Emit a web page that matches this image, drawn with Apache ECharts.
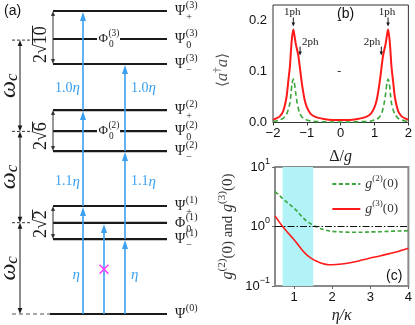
<!DOCTYPE html>
<html>
<head>
<meta charset="utf-8">
<script src="https://cdn.jsdelivr.net/npm/echarts@6/dist/echarts.min.js"></script>
<style>
  html, body { margin: 0; padding: 0; background: #fff; }
  #chart { width: 415px; height: 325px; }
</style>
</head>
<body>
<div id="chart"></div>
<script>
// ---- panel (b): photon number vs detuning
const deltaB = [-2, -1.9, -1.8, -1.7, -1.6, -1.55, -1.5, -1.47, -1.44, -1.4, -1.37, -1.33, -1.29, -1.25, -1.21, -1.17, -1.12, -1.06, -1, -0.9, -0.75, -0.5, -0.25, 0,
  0.25, 0.5, 0.75, 0.9, 1, 1.06, 1.12, 1.17, 1.21, 1.25, 1.29, 1.33, 1.37, 1.4, 1.44, 1.47, 1.5, 1.55, 1.6, 1.7, 1.8, 1.9, 2];
const nRed = [0.005, 0.008, 0.012, 0.022, 0.05, 0.08, 0.11, 0.14, 0.165, 0.182, 0.172, 0.155, 0.143, 0.13, 0.11, 0.088, 0.065, 0.043, 0.03, 0.018, 0.011, 0.007, 0.005, 0.005,
  0.005, 0.007, 0.011, 0.018, 0.03, 0.043, 0.065, 0.088, 0.11, 0.13, 0.143, 0.155, 0.172, 0.182, 0.165, 0.14, 0.11, 0.08, 0.05, 0.022, 0.012, 0.008, 0.005];
const nGreen = [0.002, 0.003, 0.005, 0.008, 0.016, 0.025, 0.038, 0.055, 0.075, 0.085, 0.078, 0.058, 0.04, 0.027, 0.018, 0.013, 0.009, 0.006, 0.005, 0.003, 0.002, 0.0015, 0.001, 0.001,
  0.001, 0.0015, 0.002, 0.003, 0.005, 0.006, 0.009, 0.013, 0.018, 0.027, 0.04, 0.058, 0.078, 0.085, 0.075, 0.055, 0.038, 0.025, 0.016, 0.008, 0.005, 0.003, 0.002];
const nTicks = [0, 0.1, 0.2];
const annotText = ['1ph', '2ph', '2ph', '1ph'];
const annotDelta = [-1.4, -1.2, 1.2, 1.4];
const annotTip = [0.188, 0.131, 0.131, 0.188];

// ---- panel (c): correlation functions vs pump
const etaC = [0.5, 0.6, 0.7, 0.8, 0.9, 1.0, 1.1, 1.2, 1.3, 1.4, 1.5, 1.6, 1.7, 1.8, 1.9, 2.0, 2.25, 2.5, 2.75, 3.0, 3.25, 3.5, 3.75, 4.0];
const g2 = [3.87, 3.4, 2.95, 2.6, 2.3, 2.04, 1.75, 1.48, 1.28, 1.15, 1.05, 0.98, 0.92, 0.88, 0.85, 0.83, 0.81, 0.8, 0.8, 0.81, 0.815, 0.83, 0.84, 0.85];
const g3 = [1.51, 1.22, 1.0, 0.84, 0.71, 0.6, 0.5, 0.41, 0.35, 0.31, 0.28, 0.26, 0.243, 0.233, 0.228, 0.227, 0.234, 0.249, 0.27, 0.295, 0.32, 0.35, 0.385, 0.43];
const etaTicks = [1, 2, 3, 4];
const bandEta = [0.7, 1.5];
const unity = 1;

// ---- panel (a): level scheme (energies in units of omega_c, schematic)
const levelSym = ['Ψ', 'Ψ', 'Φ', 'Ψ', 'Ψ', 'Ψ', 'Ψ', 'Ψ', 'Ψ', 'Ψ'];
const levelSub = ['', '−', '0', '+', '−', '0', '+', '−', '0', '+'];
const levelSup = ['(0)', '(1)', '(1)', '(1)', '(2)', '(2)', '(2)', '(3)', '(3)', '(3)'];
const levelEnergy = [0, 0.821, 0.997, 1.183, 1.785, 2.004, 2.234, 2.738, 3.012, 3.319];
const midLabelSup = { 5: '(2)', 8: '(3)' };          // Φ0 labels drawn on the line
const manifoldCenter = [0, 1, 2, 3];
const splitLow = [1, 4, 7], splitHigh = [3, 6, 9];
const splitRadicand = ['2', '6', '10'];
const pumpFrom = [0, 3, 6, 0, 1, 4, 0];
const pumpTo = [3, 6, 9, 1, 4, 7, 2];
const pumpColumn = [0, 0, 0, 2, 2, 2, 1];
const pumpStepLabel = [['', 'η'], ['1.1', 'η'], ['1.0', 'η']];
const pumpLabelE = [0.43, 1.45, 2.475];
const blockedE = 0.49;

const SERIF = '"Liberation Serif","DejaVu Serif",serif';
const SANS = '"Liberation Sans",Arial,sans-serif';
const INK = '#1a1a1a';
const BLUE = '#3ba0f0';
const colX = [83, 104, 125];

const ctx = document.createElement('canvas').getContext('2d');
function textW(s, size, italic, family) {
  ctx.font = (italic ? 'italic ' : '') + size + 'px ' + (family || SERIF);
  return ctx.measureText(s).width;
}
function txt(x, y, s, size, o) {
  o = o || {};
  return {
    type: 'text', x: x, y: y, rotation: o.rot || 0, silent: true,
    style: {
      text: s, fill: o.color || INK, fontSize: size, fontFamily: o.family || SERIF,
      fontStyle: o.italic ? 'italic' : 'normal',
      align: o.align || 'left', verticalAlign: o.va || 'middle', rich: o.rich
    }
  };
}
function seg(x1, y1, x2, y2, color, lw, dash) {
  return { type: 'line', silent: true, shape: { x1, y1, x2, y2 }, style: { stroke: color, lineWidth: lw, lineDash: dash || null } };
}
function head(x, y, dir, color, len, hw) {
  return { type: 'polygon', silent: true, shape: { points: [[x, y], [x - hw, y - dir * len], [x + hw, y - dir * len]] }, style: { fill: color } };
}
// vertical arrow, tip at yTip
function vArrow(x, yTail, yTip, color, lw, len, hw, both) {
  const dir = yTip > yTail ? 1 : -1;
  const out = [seg(x, both ? yTail + dir * len * 0.7 : yTail, x, yTip - dir * len * 0.7, color, lw), head(x, yTip, dir, color, len, hw)];
  if (both) out.push(head(x, yTail, -dir, color, len, hw));
  return out;
}
function stacked(x, y, sym, sup, sub, size) {
  const w = textW(sym, size);
  const out = [txt(x, y, sym, size)];
  if (sup) out.push(txt(x + w + 0.5, y - size * 0.42, sup, size * 0.72));
  if (sub) out.push(txt(x + w + 1, y + size * 0.42, sub, size * 0.72));
  return out;
}

const chart = echarts.init(document.getElementById('chart'));

const tickLabel = { fontFamily: SANS, fontSize: 13, color: '#111' };
const supRich = (size, color) => ({
  i: { fontFamily: SERIF, fontSize: size, fontStyle: 'italic', color, fill: color, lineHeight: size + 6 },
  n: { fontFamily: SERIF, fontSize: size - 1, color, fill: color, lineHeight: size + 6 },
  s: { fontFamily: SERIF, fontSize: Math.round(size * 0.66), color, fill: color, verticalAlign: 'top', lineHeight: Math.round(size * 0.66) }
});

const option = {
  animation: false,
  grid: [
    { left: 273, top: 5, width: 137, height: 117.5, show: true, borderColor: '#333', borderWidth: 1 },
    { left: 275, top: 167, width: 135, height: 122.5, show: true, borderColor: '#8a8a8a', borderWidth: 2 },
    { left: 0, top: 3.58, width: 205, height: 319.55 }
  ],
  xAxis: [
    {
      gridIndex: 0, type: 'value', min: -2, max: 2, interval: 1,
      axisLine: { show: false }, splitLine: { show: false },
      axisTick: { length: 3, lineStyle: { color: '#333' } },
      axisLabel: Object.assign({ margin: 4, formatter: v => (v < 0 ? '−' + (-v) : '' + v) }, tickLabel),
      name: '{n|Δ/}{i|g}', nameLocation: 'middle', nameGap: 26,
      nameTextStyle: { rich: { n: { fontFamily: SERIF, fontSize: 16, color: '#222' }, i: { fontFamily: SERIF, fontSize: 16, fontStyle: 'italic', color: '#222' } } }
    },
    {
      gridIndex: 1, type: 'value', min: 0.5, max: 4,
      axisLine: { show: false }, splitLine: { show: false },
      axisTick: { length: 3, customValues: etaTicks, lineStyle: { color: '#666' } },
      axisLabel: Object.assign({ margin: 5, customValues: etaTicks }, tickLabel),
      name: 'η/κ', nameLocation: 'middle', nameGap: 22,
      nameTextStyle: { fontFamily: SERIF, fontSize: 16, fontStyle: 'italic', color: '#222' }
    },
    { gridIndex: 2, type: 'value', min: 0, max: 205, show: false }
  ],
  yAxis: [
    {
      gridIndex: 0, type: 'value', min: 0, max: 0.23,
      axisLine: { show: false }, splitLine: { show: false },
      axisTick: { length: 3, customValues: nTicks, lineStyle: { color: '#333' } },
      axisLabel: Object.assign({ margin: 6, customValues: nTicks, formatter: v => v.toFixed(1) }, tickLabel)
    },
    {
      gridIndex: 1, type: 'log', logBase: 10, min: 0.1, max: 10,
      axisLine: { show: false }, splitLine: { show: false }, minorTick: { show: false },
      axisTick: { length: 3, lineStyle: { color: '#666' } },
      axisLabel: {
        margin: 5,
        formatter: v => { const e = Math.round(Math.log10(v)); return '{b|10}{s|' + (e < 0 ? '−' + (-e) : e) + '}'; },
        rich: {
          b: { fontFamily: SANS, fontSize: 13, color: '#111', lineHeight: 20 },
          s: { fontFamily: SANS, fontSize: 9, color: '#111', verticalAlign: 'top', lineHeight: 9 }
        }
      },
      name: '{i|g}{s|(2)}{n|(0) and }{i|g}{s|(3)}{n|(0)}', nameLocation: 'middle', nameGap: 36, nameRotate: 90,
      nameTextStyle: { rich: supRich(16, '#333') }
    },
    { gridIndex: 2, type: 'value', min: -0.1, max: 3.4, show: false }
  ],
  legend: {
    data: ['g2', 'g3'], orient: 'vertical', right: 12, top: 169, itemWidth: 28, itemHeight: 10, itemGap: 8,
    itemStyle: { opacity: 0 },
    formatter: n => '{i|g}{s|(' + n.slice(1) + ')}{n|(0)}',
    textStyle: { rich: supRich(14, '#333') }
  },
  graphic: [
    { type: 'text', left: 4, top: 4, style: { text: '(a)', fontFamily: SANS, fontSize: 14, fill: '#111' } },
    { type: 'text', left: 337, top: 7, style: { text: '(b)', fontFamily: SANS, fontSize: 14, fill: '#111' } },
    { type: 'text', left: 386, top: 269, style: { text: '(c)', fontFamily: SANS, fontSize: 14, fill: '#111' } }
  ],
  series: [
    {
      name: 'n3', type: 'line', xAxisIndex: 0, yAxisIndex: 0, showSymbol: false, symbol: 'none', smooth: 0.25,
      data: deltaB.map((d, i) => [d, nRed[i]]), lineStyle: { color: '#ff1a1a', width: 2 }
    },
    {
      name: 'n2', type: 'line', xAxisIndex: 0, yAxisIndex: 0, showSymbol: false, symbol: 'none', smooth: 0.25,
      data: deltaB.map((d, i) => [d, nGreen[i]]), lineStyle: { color: '#3aa53a', width: 1.6, type: [5, 3] }
    },
    {
      name: 'annot', type: 'custom', xAxisIndex: 0, yAxisIndex: 0, silent: true,
      data: annotDelta.map((d, i) => [d, annotTip[i]]),
      renderItem(params, api) {
        const i = params.dataIndex;
        const p = api.coord([api.value(0), api.value(1)]);
        const top = p[1] - 9;
        const kids = vArrow(p[0], top, p[1], INK, 1, 4, 1.8);
        if (annotText[i] === '1ph') kids.push(txt(p[0] - 1, top - 5, annotText[i], 11, { align: 'center' }));
        else if (annotDelta[i] < 0) kids.push(txt(p[0] + 2, top - 4, annotText[i], 11));
        else kids.push(txt(p[0] - 1, top - 4, annotText[i], 11, { align: 'right' }));
        return { type: 'group', children: kids };
      }
    },
    {
      name: 'g2', type: 'line', xAxisIndex: 1, yAxisIndex: 1, showSymbol: false, symbol: 'none', smooth: 0.3,
      data: etaC.map((e, i) => [e, g2[i]]), lineStyle: { color: '#3aa53a', width: 1.6, type: [4, 2.5] }, itemStyle: { color: '#3aa53a' },
      markArea: { silent: true, itemStyle: { color: '#b2f3f8' }, data: [[{ xAxis: bandEta[0] }, { xAxis: bandEta[1] }]] },
      markLine: { silent: true, symbol: 'none', label: { show: false }, lineStyle: { color: '#111', width: 1, type: [7, 2, 1.5, 2] }, data: [{ yAxis: unity }] },
      z: 3
    },
    {
      name: 'g3', type: 'line', xAxisIndex: 1, yAxisIndex: 1, showSymbol: false, symbol: 'none', smooth: 0.3,
      data: etaC.map((e, i) => [e, g3[i]]), lineStyle: { color: '#ff1a1a', width: 1.6 }, itemStyle: { color: '#ff1a1a' }, z: 3
    },
    // ---- panel (a)
    {
      name: 'levels', type: 'custom', xAxisIndex: 2, yAxisIndex: 2, silent: true,
      data: levelEnergy.map((e, i) => [i, e]),
      renderItem(params, api) {
        const i = params.dataIndex;
        const e = api.value(1);
        const y = api.coord([0, e])[1];
        const xl = api.coord([i === 0 ? 50 : 53, e])[0];
        const xr = api.coord([167, e])[0];
        const lw = 2.2;
        let kids = [];
        if (midLabelSup[i]) {
          const g1 = api.coord([97, e])[0], g2x = api.coord([120, e])[0];
          kids.push(seg(xl, y, g1, y, INK, lw), seg(g2x, y, xr, y, INK, lw));
          kids = kids.concat(stacked(g1 + 1.5, y, 'Φ', midLabelSup[i], '0', 13));
        } else {
          kids.push(seg(xl, y, xr, y, INK, lw));
        }
        if (i === 0) kids.push(seg(api.coord([12, e])[0], y, xl, y, '#555', 1, [4, 3]));
        kids = kids.concat(stacked(api.coord([175, e])[0], y, levelSym[i], levelSup[i], levelSub[i], 14));
        return { type: 'group', children: kids };
      }
    },
    {
      name: 'ladder', type: 'custom', xAxisIndex: 2, yAxisIndex: 2, silent: true,
      data: manifoldCenter.slice(1).map((e, k) => [k, e]),
      renderItem(params, api) {
        const k = params.dataIndex;
        const lo = manifoldCenter[k], hi = manifoldCenter[k + 1];
        const yLo = api.coord([0, lo])[1], yHi = api.coord([0, hi])[1];
        const x = api.coord([20, hi])[0];
        let kids = [seg(api.coord([12, hi])[0], yHi, api.coord([31, hi])[0], yHi, '#333', 1, [3, 2])];
        kids = kids.concat(vArrow(x, yHi, yLo, INK, 1, 6, 2.3, true));
        kids.push(txt(api.coord([9, hi])[0], (yLo + yHi) / 2, '{w|ω}{c|c}', 22, {
          rot: Math.PI / 2, align: 'center',
          rich: {
            w: { fontFamily: SERIF, fontSize: 24, fontStyle: 'italic', fill: INK, lineHeight: 24, verticalAlign: 'top' },
            c: { fontFamily: SERIF, fontSize: 17, fontStyle: 'italic', fill: INK, lineHeight: 17, verticalAlign: 'bottom' }
          }
        }));
        if (k === 2) {
          // axis title of panel (b): <a†a>, read bottom to top, left of its tick labels
          kids.push(txt(api.coord([223, 0])[0], 70, '{n|⟨}{i|a}{s|†}{i|a}{n|⟩}', 16, {
            rot: Math.PI / 2, align: 'center',
            rich: {
              n: { fontFamily: '"DejaVu Serif",serif', fontSize: 15, fill: '#555', lineHeight: 22 },
              i: { fontFamily: SERIF, fontSize: 17, fontStyle: 'italic', fill: '#555', lineHeight: 22 },
              s: { fontFamily: SERIF, fontSize: 11, fill: '#555', lineHeight: 11, verticalAlign: 'top' }
            }
          }));
        }
        return { type: 'group', children: kids };
      }
    },
    {
      name: 'splitting', type: 'custom', xAxisIndex: 2, yAxisIndex: 2, silent: true,
      data: splitLow.map((l, k) => [k, levelEnergy[l]]),
      renderItem(params, api) {
        const k = params.dataIndex;
        const yLo = api.coord([0, levelEnergy[splitLow[k]]])[1];
        const yHi = api.coord([0, levelEnergy[splitHigh[k]]])[1];
        const x = api.coord([53, 0])[0];
        let kids = vArrow(x, yHi, yLo, '#333', 1, 5, 2, true);
        const size = 18;
        const a = '2√', b = splitRadicand[k];
        const wa = textW(a, size), wb = textW(b, size);
        kids.push({
          type: 'group', x: api.coord([41, 0])[0], y: yLo - 1, rotation: Math.PI / 2,
          children: [
            txt(0, 0, a, size), txt(wa, 0, b, size),
            seg(wa - 0.5, -size * 0.47, wa + wb + 0.5, -size * 0.47, INK, 1)
          ]
        });
        return { type: 'group', children: kids };
      }
    },
    {
      name: 'pumps', type: 'custom', xAxisIndex: 2, yAxisIndex: 2, silent: true,
      data: pumpFrom.map((f, k) => [k, levelEnergy[f]]),
      renderItem(params, api) {
        const k = params.dataIndex;
        const x = api.coord([colX[pumpColumn[k]], 0])[0];
        const y0 = api.coord([0, levelEnergy[pumpFrom[k]]])[1];
        const y1 = api.coord([0, levelEnergy[pumpTo[k]]])[1] + 1;
        let kids = vArrow(x, y0, y1, BLUE, 1.6, 9, 3);
        if (pumpColumn[k] === 1) {
          const yb = api.coord([0, blockedE])[1];
          kids.push(seg(x - 4.5, yb - 4.5, x + 4.5, yb + 4.5, '#ff33ff', 1.5), seg(x - 4.5, yb + 4.5, x + 4.5, yb - 4.5, '#ff33ff', 1.5));
        }
        return { type: 'group', children: kids };
      }
    },
    {
      name: 'pumpLabels', type: 'custom', xAxisIndex: 2, yAxisIndex: 2, silent: true,
      data: pumpLabelE.map((e, k) => [k, e]),
      renderItem(params, api) {
        const k = params.dataIndex;
        const y = api.coord([0, api.value(1)])[1];
        const s = '{n|' + pumpStepLabel[k][0] + '}{i|' + pumpStepLabel[k][1] + '}';
        const rich = {
          n: { fontFamily: SERIF, fontSize: 14, fill: BLUE },
          i: { fontFamily: SERIF, fontSize: 15, fontStyle: 'italic', fill: BLUE }
        };
        return {
          type: 'group', children: [
            txt(api.coord([80, 0])[0], y, s, 14, { align: 'right', rich }),
            txt(api.coord([131, 0])[0], y, s, 14, { align: 'left', rich })
          ]
        };
      }
    }
  ]
};

chart.setOption(option);
</script>
</body>
</html>
